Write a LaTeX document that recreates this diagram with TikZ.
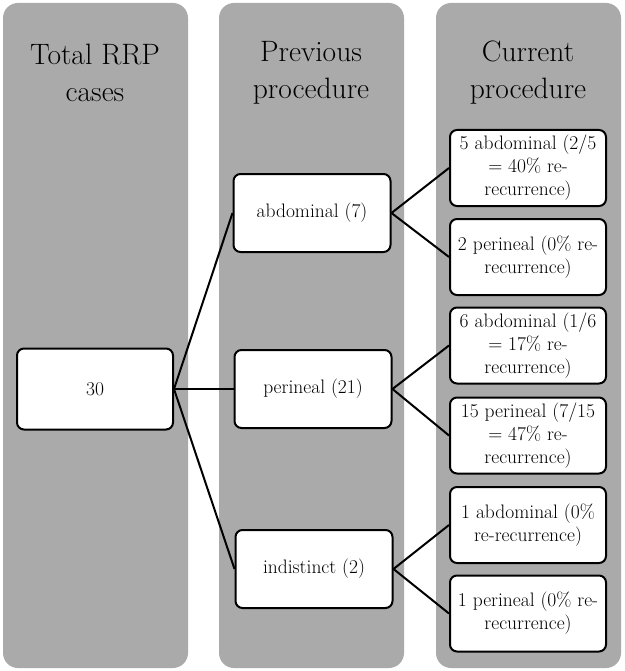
\documentclass[tikz,border=0pt]{standalone}
\usepackage{xcolor}
\usetikzlibrary{positioning}
\definecolor{lanegray}{RGB}{170,170,170}

\begin{document}
\begin{tikzpicture}[x=1pt,y=-1pt,
  lane/.style={fill=lanegray,rounded corners=15pt},
  header/.style={align=center,font=\fontsize{29.5}{37}\selectfont},
  box/.style={draw=black,line width=2pt,fill=white,rounded corners=7pt,
    align=center,inner sep=1pt,font=\fontsize{19.5}{23}\selectfont},
  midbox/.style={box,minimum width=157pt,minimum height=78pt},
  endbox/.style={box,minimum width=156pt,minimum height=76pt},
  link/.style={line width=2pt}]
\useasboundingbox (0,0) rectangle (624,671);
% the three gray lanes
\fill[lane] (3,3) rectangle (188,668);
\fill[lane] (219,3) rectangle (404,668);
\fill[lane] (436,3) rectangle (621,668);
\node[header] (hTotal) at (95,73) {Total RRP\\cases};
\node[header] (hPrev) at (311,73) {Previous\\procedure};
\node[header] (hCurr) at (528,73) {Current\\procedure};
% total
\node[midbox,minimum width=156pt,minimum height=81pt] (total) at (95,389) {30};
% previous procedure
\node[midbox] (prevAbd) at (312,213) {abdominal (7)};
\node[midbox] (prevPer) at (313,389) {perineal (21)};
\node[midbox] (prevInd) at (314,569) {indistinct (2)};
% current procedure
\node[endbox] (curA1) at (528,168) {5 abdominal (2/5\\= 40\% re-\\recurrence)};
\node[endbox] (curP1) at (528,257) {2 perineal (0\% re-\\recurrence)};
\node[endbox] (curA2) at (528,345.5) {6 abdominal (1/6\\= 17\% re-\\recurrence)};
\node[endbox] (curP2) at (528,435.5) {15 perineal (7/15\\= 47\% re-\\recurrence)};
\node[endbox] (curA3) at (528,525) {1 abdominal (0\%\\re-recurrence)};
\node[endbox] (curP3) at (528,613.5) {1 perineal (0\% re-\\recurrence)};
% connectors
\draw[link] (total.east) -- (prevAbd.west);
\draw[link] (total.east) -- (prevPer.west);
\draw[link] (total.east) -- (prevInd.west);
\draw[link] (prevAbd.east) -- (curA1.west);
\draw[link] (prevAbd.east) -- (curP1.west);
\draw[link] (prevPer.east) -- (curA2.west);
\draw[link] (prevPer.east) -- (curP2.west);
\draw[link] (prevInd.east) -- (curA3.west);
\draw[link] (prevInd.east) -- (curP3.west);
\end{tikzpicture}
\end{document}
